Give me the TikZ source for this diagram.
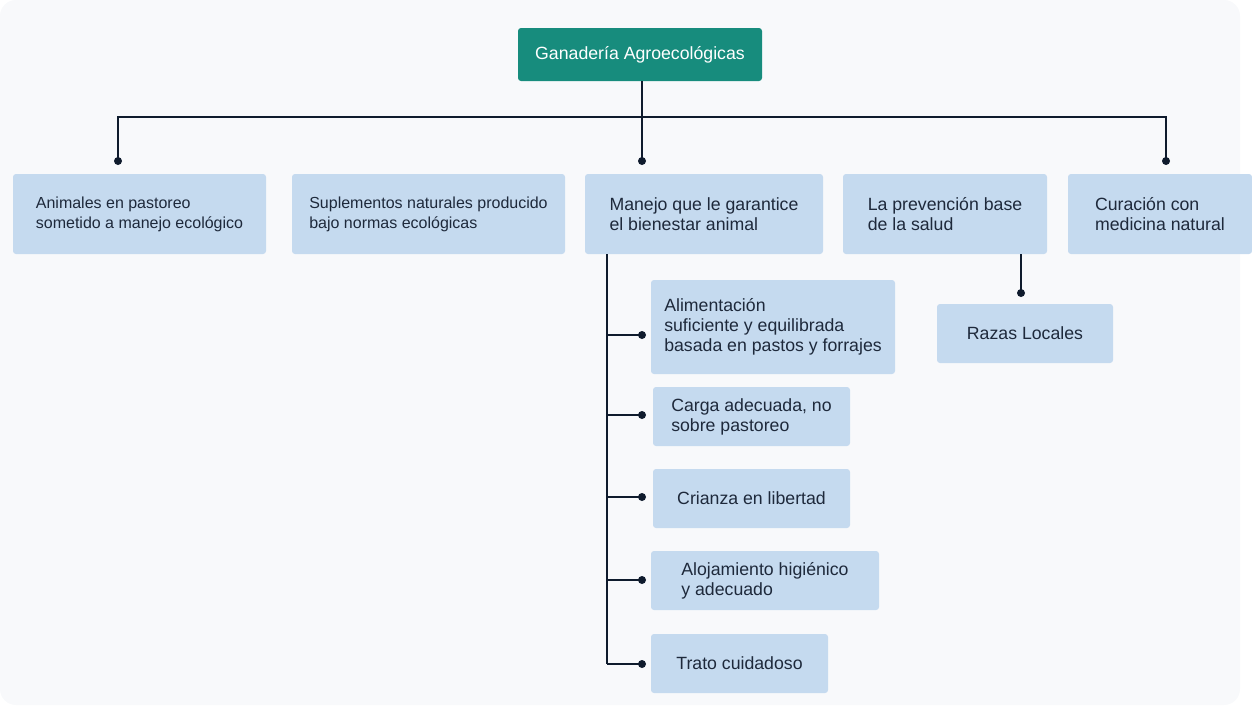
\documentclass[tikz,border=0pt]{standalone}
\usepackage{fontspec}
\setmainfont{Liberation Sans}
\usetikzlibrary{calc}
\definecolor{bgpage}{HTML}{F8F9FB}
\definecolor{teal1}{HTML}{178C7D}
\definecolor{boxblue}{HTML}{C5DAEF}
\definecolor{ink}{HTML}{1E293B}
\definecolor{wire}{HTML}{0F1B2D}

\begin{document}
\begin{tikzpicture}[x=1pt, y=-1pt,
	box/.style={rectangle, rounded corners=3pt, fill=boxblue, text=ink, align=left, inner sep=0pt, font=\fontsize{17.7}{20}\selectfont},
	smallbox/.style={box, font=\fontsize{16}{20}\selectfont},
	root/.style={rectangle, rounded corners=3pt, fill=teal1, text=white, inner sep=0pt, font=\fontsize{17.7}{20}\selectfont},
	link/.style={draw=wire, line width=2pt}]
	\useasboundingbox (0,0) rectangle (1252,705);
	\fill[bgpage, rounded corners=16pt] (0,0) rectangle (1240,705);

	\node[root, minimum width=244, minimum height=53] (root) at (640,54.5) {Ganadería Agroecológicas};

	\node[smallbox, minimum width=253, minimum height=80] (mA) at (139.5,214) {Animales en pastoreo\\sometido a manejo ecológico};
	\node[smallbox, minimum width=273, minimum height=80] (mB) at (428.5,214) {Suplementos naturales producido\\bajo normas ecológicas};
	\node[box, minimum width=238, minimum height=80] (mC) at (704,214) {Manejo que le garantice\\el bienestar animal};
	\node[box, minimum width=204, minimum height=80] (mD) at (945,214) {La prevención base\\de la salud};
	\node[box, minimum width=184, minimum height=80] (mE) at (1160,214) {Curación con\\medicina natural};

	\node[box, minimum width=244, minimum height=94] (c1) at (773,327) {Alimentación\\suficiente y equilibrada\\basada en pastos y forrajes};
	\node[box, minimum width=197, minimum height=59] (c2) at (751.5,416.5) {Carga adecuada, no\\sobre pastoreo};
	\node[box, minimum width=197, minimum height=59] (c3) at (751.5,498.5) {Crianza en libertad};
	\node[box, minimum width=228, minimum height=59] (c4) at (765,580.5) {Alojamiento higiénico\\y adecuado};
	\node[box, minimum width=177, minimum height=59] (c5) at (739.5,663.5) {Trato cuidadoso};

	\node[box, minimum width=176, minimum height=59] (razas) at (1025,333.5) {Razas Locales};

	% top level
	\coordinate (bar) at (642,117);
	\coordinate (dA) at (118,161);
	\coordinate (dC) at (642,161);
	\coordinate (dE) at (1166,161);
	\draw[link] (dA) |- (bar) -| (dE);
	\draw[link] (root.south -| bar) -- (dC);
	\foreach \d in {dA,dC,dE}
		\fill[wire] (\d) circle (4);

	% manejo
	\coordinate (spine) at (607,664);
	\draw[link] (mC.south -| spine) -- (spine);
	\foreach \i/\y in {1/335,2/415,3/497,4/580,5/664} {
		\coordinate (k\i) at (642,\y);
		\draw[link] (spine |- k\i) -- (k\i);
		\fill[wire] (k\i) circle (4);
	}

	% prevencion
	\coordinate (kR) at (1021,293);
	\draw[link] (mD.south -| kR) -- (kR);
	\fill[wire] (kR) circle (4);
\end{tikzpicture}
\end{document}
